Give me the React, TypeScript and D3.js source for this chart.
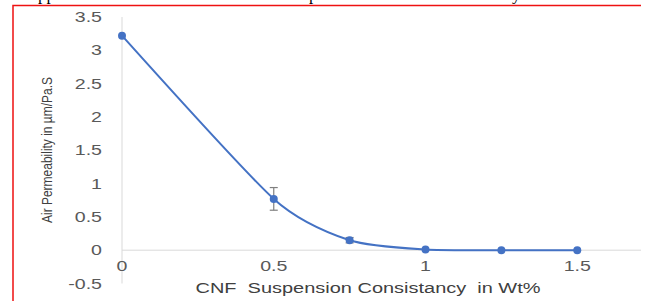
import React, { useRef, useEffect } from "react";
import * as d3 from "d3";

// values
const consistency = [0, 0.5, 0.75, 1, 1.25, 1.5];
const permeability = [3.22, 0.77, 0.15, 0.01, 0.0, 0.0];
const errorBars = [0, 0.17, 0.04, 0, 0, 0];
const yTicks = [-0.5, 0, 0.5, 1, 1.5, 2, 2.5, 3, 3.5];
const xTicks = [0, 0.5, 1, 1.5];

const App = () => {
  const svgRef = useRef<SVGSVGElement>(null);

  useEffect(() => {
    const svg = d3.select(svgRef.current);
    svg.selectAll("*").remove();

    const x = d3.scaleLinear().domain([0, 1.71]).range([122, 641]);
    const y = d3.scaleLinear().domain([-0.5, 3.5]).range([283.5, 17]);

    const font = "Liberation Sans, Arial, sans-serif";

    // cut-off text from the page above
    svg
      .append("g")
      .attr("font-family", "Liberation Serif, Times New Roman, serif")
      .attr("font-size", 17)
      .attr("fill", "#000")
      .selectAll("text")
      .data([
        { t: "pp", x: 38 },
        { t: "p", x: 309 },
        { t: "y", x: 512 },
      ])
      .enter()
      .append("text")
      .attr("x", (d) => d.x)
      .attr("y", 0)
      .text((d) => d.t);

    // red frame
    svg
      .append("path")
      .attr("d", "M13,301 L13,5.5 L641,5.5")
      .attr("fill", "none")
      .attr("stroke", "#ee1111")
      .attr("stroke-width", 1.5);

    // zero line
    svg
      .append("line")
      .attr("x1", x(0))
      .attr("x2", x(1.71))
      .attr("y1", y(0))
      .attr("y2", y(0))
      .attr("stroke", "#d9d9d9");

    // vertical axis line
    svg
      .append("line")
      .attr("x1", x(0))
      .attr("x2", x(0))
      .attr("y1", y(3.5))
      .attr("y2", y(-0.5))
      .attr("stroke", "#d9d9d9");

    // y tick labels (the picture's text is stretched sideways)
    svg
      .append("g")
      .selectAll("text")
      .data(yTicks)
      .enter()
      .append("text")
      .attr("transform", (d) => `translate(102,${y(d)}) scale(1.4,1)`)
      .attr("dy", "0.36em")
      .attr("text-anchor", "end")
      .attr("font-family", font)
      .attr("font-size", 14)
      .attr("fill", "#595959")
      .text((d) => String(d));

    // x tick labels
    svg
      .append("g")
      .selectAll("text")
      .data(xTicks)
      .enter()
      .append("text")
      .attr("transform", (d) => `translate(${x(d)},266) scale(1.4,1)`)
      .attr("dy", "0.36em")
      .attr("text-anchor", "middle")
      .attr("font-family", font)
      .attr("font-size", 14)
      .attr("fill", "#595959")
      .text((d) => String(d));

    // axis titles
    svg
      .append("text")
      .attr("transform", "translate(52,150) rotate(-90)")
      .attr("text-anchor", "middle")
      .attr("font-family", font)
      .attr("font-size", 15)
      .attr("fill", "#404040")
      .attr("textLength", 146)
      .attr("lengthAdjust", "spacingAndGlyphs")
      .text("Air Permeability in µm/Pa.S");

    svg
      .append("text")
      .attr("x", 368)
      .attr("y", 288)
      .attr("dy", "0.36em")
      .attr("text-anchor", "middle")
      .attr("font-family", font)
      .attr("font-size", 14)
      .attr("fill", "#404040")
      .attr("textLength", 345)
      .attr("lengthAdjust", "spacingAndGlyphs")
      .style("white-space", "pre")
      .text("CNF  Suspension Consistancy  in Wt%");

    const pts = consistency.map((c, i) => ({
      c,
      v: permeability[i],
      e: errorBars[i],
    }));

    // smoothed line
    const line = d3
      .line<{ c: number; v: number }>()
      .x((d) => x(d.c))
      .y((d) => y(d.v))
      .curve(d3.curveCardinal.tension(0.3));

    svg
      .append("path")
      .datum(pts)
      .attr("d", line)
      .attr("fill", "none")
      .attr("stroke", "#4472c4")
      .attr("stroke-width", 2);

    // error bars
    const eb = svg
      .append("g")
      .attr("stroke", "#7f7f7f")
      .attr("stroke-width", 1.2)
      .selectAll("g")
      .data(pts.filter((d) => d.e > 0))
      .enter()
      .append("g");
    eb.append("line")
      .attr("x1", (d) => x(d.c))
      .attr("x2", (d) => x(d.c))
      .attr("y1", (d) => y(d.v + d.e))
      .attr("y2", (d) => y(d.v - d.e));
    eb.append("line")
      .attr("x1", (d) => x(d.c) - 4)
      .attr("x2", (d) => x(d.c) + 4)
      .attr("y1", (d) => y(d.v + d.e))
      .attr("y2", (d) => y(d.v + d.e));
    eb.append("line")
      .attr("x1", (d) => x(d.c) - 4)
      .attr("x2", (d) => x(d.c) + 4)
      .attr("y1", (d) => y(d.v - d.e))
      .attr("y2", (d) => y(d.v - d.e));

    // markers
    svg
      .append("g")
      .selectAll("circle")
      .data(pts)
      .enter()
      .append("circle")
      .attr("cx", (d) => x(d.c))
      .attr("cy", (d) => y(d.v))
      .attr("r", 4)
      .attr("fill", "#4472c4");
  }, []);

  return (
    <svg
      ref={svgRef}
      width={652}
      height={301}
      style={{ position: "absolute", left: 0, top: 0, background: "#fff" }}
    ></svg>
  );
};

export default App;
